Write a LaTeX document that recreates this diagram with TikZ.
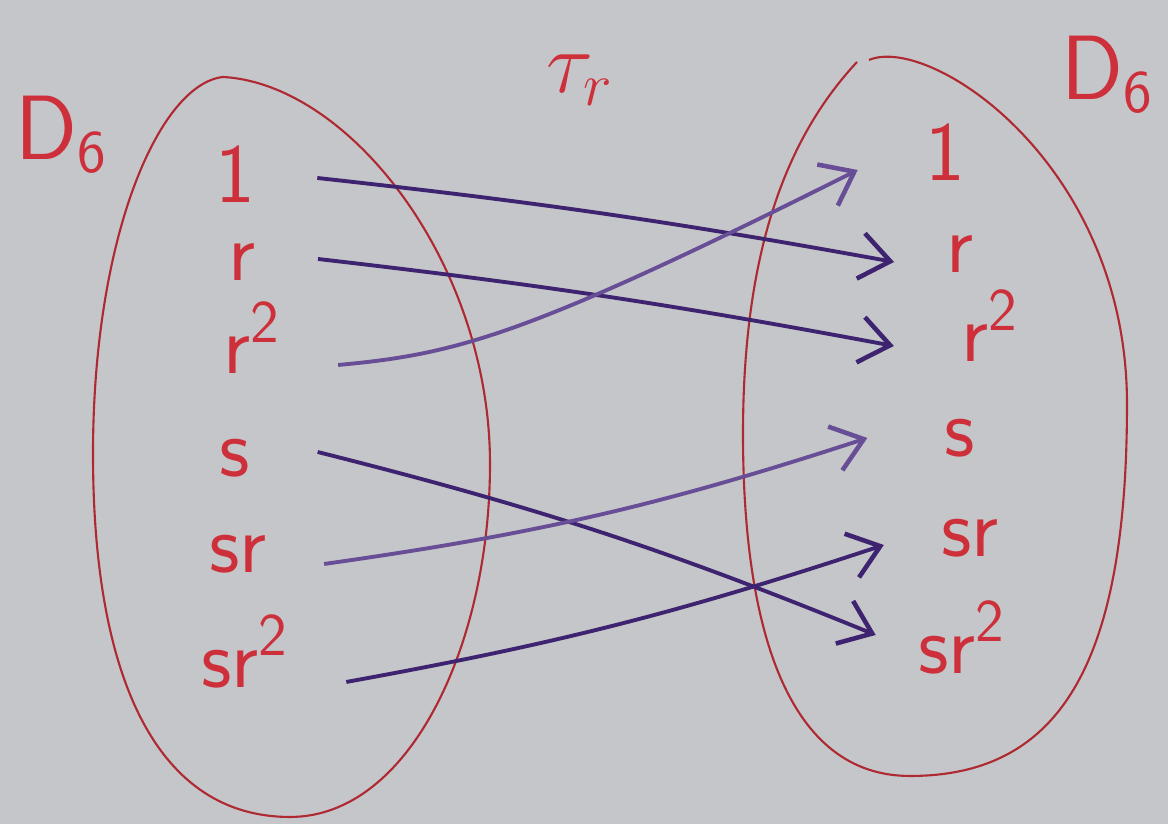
\documentclass[tikz,border=0pt]{standalone}
\usepackage{amsmath}
\usepackage{tikz}
\usetikzlibrary{arrows.meta, positioning}
\definecolor{boardgray}{RGB}{197,198,201}
\definecolor{markerred}{RGB}{205,48,58}
\definecolor{markerpurple}{RGB}{62,36,112}
\definecolor{fadedpurple}{RGB}{104,78,150}

\tikzset{
  elem/.style={text=markerred, font=\sffamily\fontsize{24}{26}\selectfont, inner sep=0.5pt},
  setname/.style={text=markerred, font=\sffamily\fontsize{26}{28}\selectfont},
  setline/.style={draw=markerred!85!black, line width=0.6pt},
  maparrow/.style={draw=markerpurple, line width=1.1pt, -{Straight Barb[length=3mm, width=4.6mm, line width=1.3pt]}},
  fadedarrow/.style={maparrow, draw=fadedpurple}
}

\begin{document}
\begin{tikzpicture}[>=Stealth]
    \useasboundingbox (0,0) rectangle (11.68,8.24);
    \fill[boardgray] (0,0) rectangle (11.68,8.24);

    % the two copies of D_6, drawn freehand
    \draw[setline] (2.23,7.47) .. controls (3.50,7.40) and (4.90,5.60) .. (4.90,3.60)
        .. controls (4.90,1.80) and (4.10,0.07) .. (2.90,0.07)
        .. controls (1.60,0.07) and (0.93,1.40) .. (0.93,3.70)
        .. controls (0.93,5.90) and (1.60,7.40) .. cycle;
    \draw[setline] (8.69,7.64) .. controls (9.30,7.90) and (11.27,6.60) .. (11.27,4.20)
        .. controls (11.27,1.60) and (10.60,0.48) .. (9.10,0.48)
        .. controls (7.90,0.48) and (7.43,1.90) .. (7.43,3.90)
        .. controls (7.43,5.80) and (7.90,6.90) .. (8.57,7.62);

    \node[setname] (dleft) at (0.62, 6.90) {D$_{\mathsf{6}}$};
    \node[setname] (dright) at (11.08, 7.50) {D$_{\mathsf{6}}$};
    \node[setname] (taur) at (5.80, 7.44) {$\tau_r$};

    % domain
    \node[elem] (l1)   at (2.35, 6.50) {1};
    \node[elem] (lr)   at (2.42, 5.62) {r};
    \node[elem] (lr2)  at (2.52, 4.86) {r$^{\mathsf{2}}$};
    \node[elem] (ls)   at (2.35, 3.66) {s};
    \node[elem] (lsr)  at (2.38, 2.70) {sr};
    \node[elem] (lsr2) at (2.45, 1.72) {sr$^{\mathsf{2}}$};

    % codomain
    \node[elem] (r1)   at (9.45, 6.72) {1};
    \node[elem] (rr)   at (9.60, 5.70) {r};
    \node[elem] (rr2)  at (9.90, 4.98) {r$^{\mathsf{2}}$};
    \node[elem] (rs)   at (9.60, 3.86) {s};
    \node[elem] (rsr)  at (9.70, 2.86) {sr};
    \node[elem] (rsr2) at (9.62, 1.86) {sr$^{\mathsf{2}}$};

    \draw[maparrow] ([xshift=6mm, yshift=-0.4mm]l1.east) to[bend left=2] ([xshift=-5mm, yshift=-0.8mm]rr.west);
    \draw[maparrow] ([xshift=6mm, yshift=0.3mm]lr.east) to[bend left=2] ([xshift=-6.5mm, yshift=-2mm]rr2.west);
    \draw[fadedarrow] ([xshift=5.5mm, yshift=-2.7mm]lr2.east)
        .. controls (4.6,4.70) and (5.3,4.90) .. ([xshift=-6.5mm, yshift=-1.8mm]r1.west);
    \draw[maparrow] ([xshift=6.5mm, yshift=0.6mm]ls.east) to[bend left=4] ([xshift=-4mm, yshift=0.3mm]rsr2.west);
    \draw[fadedarrow] ([xshift=5.5mm, yshift=-1mm]lsr.east) to[bend right=5] ([xshift=-7.5mm]rs.west);
    \draw[maparrow] ([xshift=5.5mm, yshift=-3mm]lsr2.east) to[bend right=4] ([xshift=-5.5mm, yshift=-0.7mm]rsr.west);
  \end{tikzpicture}
\end{document}
